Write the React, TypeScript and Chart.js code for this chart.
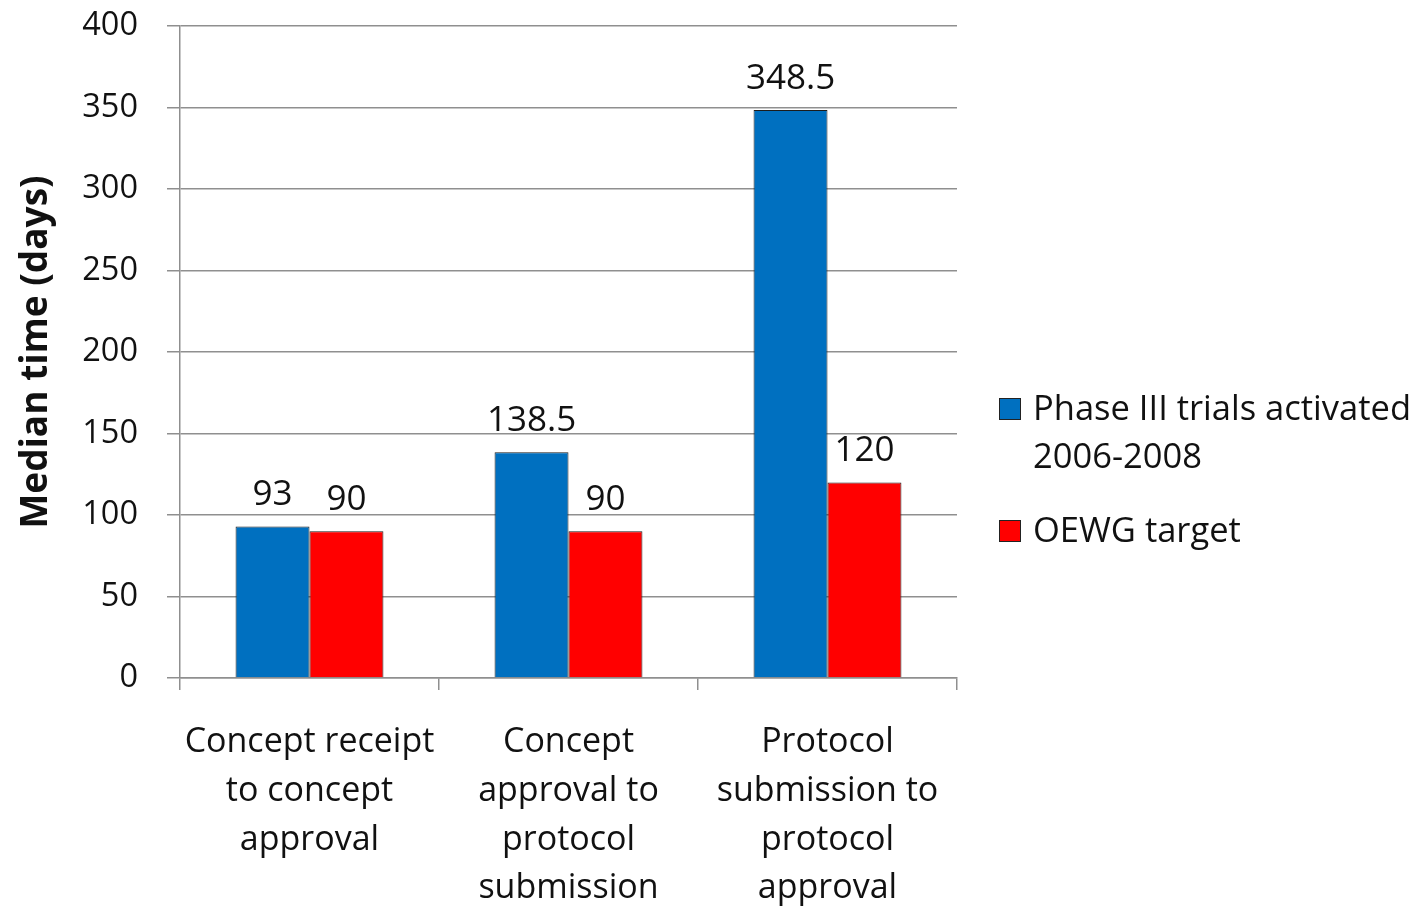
import React, { useEffect, useRef } from "react";
import { Chart, registerables } from "chart.js";

Chart.register(...registerables);

const categories: string[][] = [
  ["Concept receipt", "to concept", "approval"],
  ["Concept", "approval to", "protocol", "submission"],
  ["Protocol", "submission to", "protocol", "approval"],
];
const seriesNames: string[][] = [["Phase III trials activated", "2006-2008"], ["OEWG target"]];
const phaseIII: number[] = [93, 138.5, 348.5];
const oewgTarget: number[] = [90, 90, 120];
const valueLabels: string[][] = [["93", "138.5", "348.5"], ["90", "90", "120"]];
const yMin = 0;
const yMax = 400;
const yStep = 50;
const yTitle = "Median time (days)";

const FONT = "'Open Sans', 'Noto Sans', sans-serif";
const GRID = "#8f8f8f";

const valueLabelPlugin = {
  id: "valueLabels",
  afterDatasetsDraw(chart: any) {
    const ctx = chart.ctx;
    ctx.save();
    ctx.font = `35px ${FONT}`;
    ctx.fillStyle = "#111";
    ctx.textAlign = "center";
    ctx.textBaseline = "middle";
    chart.data.datasets.forEach((ds: any, di: number) => {
      const meta = chart.getDatasetMeta(di);
      meta.data.forEach((bar: any, i: number) => {
        ctx.fillText(valueLabels[di][i], bar.x, bar.y - 31);
      });
    });
    ctx.restore();
  },
};

const legendPlugin = {
  id: "customLegend",
  afterDraw(chart: any) {
    const ctx = chart.ctx;
    ctx.save();
    ctx.font = `34.5px ${FONT}`;
    ctx.textAlign = "left";
    ctx.textBaseline = "middle";
    const x0 = chart.chartArea.right + 42;
    const starts = [409, 531];
    chart.data.datasets.forEach((ds: any, di: number) => {
      const y = starts[di];
      ctx.fillStyle = ds.backgroundColor;
      ctx.fillRect(x0, y - 11, 22, 22);
      ctx.strokeStyle = "#222";
      ctx.lineWidth = 1;
      ctx.strokeRect(x0 + 0.5, y - 10.5, 21, 21);
      ctx.fillStyle = "#111";
      seriesNames[di].forEach((line, li) => {
        ctx.fillText(line, x0 + 34, y + 1 + li * 48);
      });
    });
    ctx.restore();
  },
};

export default function App() {
  const ref = useRef<HTMLCanvasElement | null>(null);
  useEffect(() => {
    if (!ref.current) return;
    const chart = new Chart(ref.current, {
      type: "bar",
      data: {
        labels: categories,
        datasets: [
          {
            label: seriesNames[0].join(" "),
            data: phaseIII,
            backgroundColor: "#0070C0",
            borderColor: "#1c1c1c",
            borderWidth: 1,
            categoryPercentage: 0.571,
            barPercentage: 1,
          },
          {
            label: seriesNames[1].join(" "),
            data: oewgTarget,
            backgroundColor: "#FF0000",
            borderColor: "#1c1c1c",
            borderWidth: 1,
            categoryPercentage: 0.571,
            barPercentage: 1,
          },
        ],
      },
      options: {
        responsive: false,
        animation: false,
        devicePixelRatio: 1,
        layout: { padding: { left: 0, top: 26, right: 471, bottom: 0 } },
        plugins: { legend: { display: false }, tooltip: { enabled: false } },
        scales: {
          x: {
            offset: true,
            grid: {
              offset: true,
              drawOnChartArea: false,
              drawTicks: true,
              tickLength: 12,
              color: GRID,
              lineWidth: 1.5,
            },
            border: { color: GRID, width: 1.5 },
            ticks: {
              color: "#111",
              font: { family: FONT, size: 34, lineHeight: 1.435 },
              padding: 28,
              maxRotation: 0,
              autoSkip: false,
            },
            afterFit(scale: any) {
              scale.height = 228;
              scale.paddingTop = 0;
              scale.paddingBottom = 0;
            },
          },
          y: {
            min: yMin,
            max: yMax,
            grid: { color: GRID, lineWidth: 1.5, tickLength: 13, drawTicks: true },
            border: { color: GRID, width: 1.5 },
            ticks: {
              stepSize: yStep,
              color: "#111",
              font: { family: FONT, size: 32.5 },
              padding: 29,
            },
            title: {
              display: true,
              text: yTitle,
              color: "#111",
              font: { family: FONT, size: 37, weight: "bold" },
              padding: { top: 14, bottom: 0 },
            },
            afterFit(scale: any) {
              scale.width = 180;
              scale.paddingTop = 0;
              scale.paddingBottom = 0;
            },
          },
        },
      },
      plugins: [valueLabelPlugin, legendPlugin],
    });
    return () => chart.destroy();
  }, []);
  return (
    <div style={{ position: "absolute", left: 0, top: 0, width: 1428, height: 906, background: "#fff" }}>
      <canvas ref={ref} width={1428} height={906} style={{ display: "block" }} />
    </div>
  );
}
